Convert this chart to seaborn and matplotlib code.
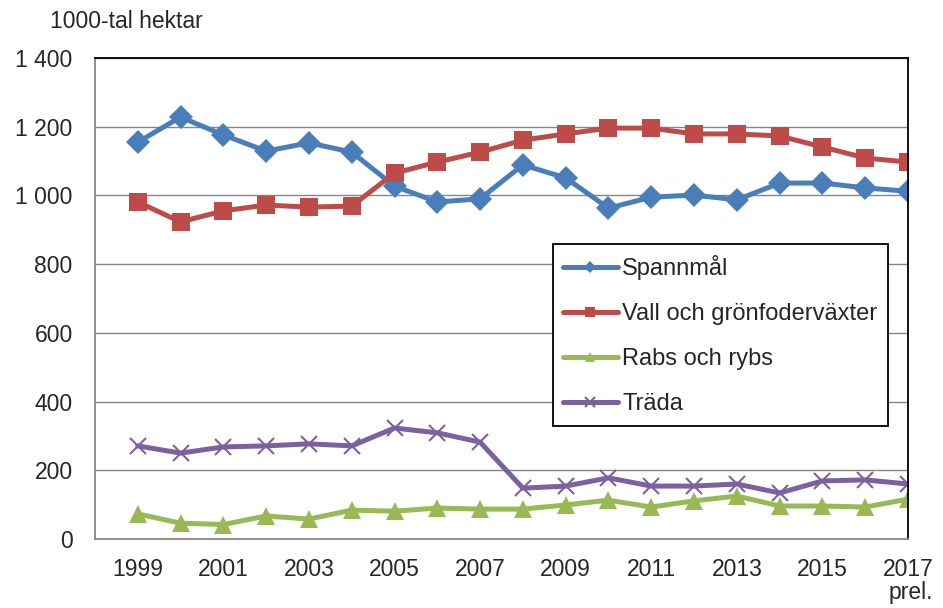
import numpy as np
import pandas as pd
import matplotlib
matplotlib.use("Agg")
import matplotlib.pyplot as plt
import seaborn as sns

years = list(range(1999, 2018))
spannmal = [1155, 1228, 1176, 1129, 1153, 1126, 1027, 981, 990, 1089,
            1051, 963, 995, 1001, 987, 1036, 1036, 1022, 1012]
vall = [981, 923, 955, 972, 966, 969, 1065, 1097, 1126, 1161,
        1179, 1196, 1196, 1179, 1179, 1173, 1141, 1109, 1097]
rabs = [73, 46, 42, 67, 58, 84, 81, 90, 87, 87,
        99, 113, 93, 111, 125, 96, 96, 93, 116]
trada = [271, 250, 268, 271, 277, 271, 323, 309, 282, 148,
         154, 178, 154, 154, 160, 134, 169, 172, 160]

series_names = ["Spannmål", "Vall och grönfoderväxter", "Rabs och rybs", "Träda"]
tick_years = list(range(1999, 2018, 2))
tick_labels = [str(y) for y in tick_years[:-1]] + ["2017\nprel."]
y_ticks = list(range(0, 1401, 200))
y_labels = ["0", "200", "400", "600", "800", "1 000", "1 200", "1 400"]

df = pd.DataFrame({
    "year": years * 4,
    "value": spannmal + vall + rabs + trada,
    "serie": np.repeat(series_names, len(years)),
})

colors = {"Spannmål": "#4A7EBB", "Vall och grönfoderväxter": "#BE4B48",
          "Rabs och rybs": "#98B954", "Träda": "#7D60A0"}
markers = {"Spannmål": "D", "Vall och grönfoderväxter": "s",
           "Rabs och rybs": "^", "Träda": "x"}
msize = {"Spannmål": 12, "Vall och grönfoderväxter": 12.5,
         "Rabs och rybs": 13, "Träda": 12}

sns.set_style("white")
plt.rcParams["font.family"] = ["Liberation Sans", "DejaVu Sans"]

fig = plt.figure(figsize=(9.43, 6.08), dpi=100)
ax = fig.add_axes([0.1007, 0.1135, 0.8622, 0.7911])

for name in series_names:
    sub = df[df["serie"] == name]
    sns.lineplot(data=sub, x="year", y="value", ax=ax, color=colors[name],
                 linewidth=3.6, marker=markers[name], markersize=msize[name],
                 markeredgecolor=colors[name], markeredgewidth=1.5 if name == "Träda" else 0,
                 label=name)

ax.set_xlim(1998, 2017)
ax.set_ylim(0, 1400)
ax.set_yticks(y_ticks)
ax.set_yticklabels(y_labels, fontsize=16.5)
ax.set_xticks(tick_years)
ax.set_xticklabels(tick_labels, fontsize=16.5, linespacing=1.0, multialignment="right")
ax.set_xticks(range(1998, 2018), minor=True)
ax.tick_params(axis="x", which="both", direction="out", length=7, width=1,
               color="#868686", pad=7)
ax.tick_params(axis="y", length=0, pad=16)
ax.set_xlabel("")
ax.set_ylabel("")
ax.grid(axis="y", color="#868686", linewidth=1)
ax.set_axisbelow(True)

for side in ["left", "bottom"]:
    ax.spines[side].set_color("#868686")
    ax.spines[side].set_linewidth(1.3)
for side in ["top", "right"]:
    ax.spines[side].set_color("black")
    ax.spines[side].set_linewidth(1.3)

leg = ax.legend(loc="upper left", bbox_to_anchor=(0.563, 0.613), fontsize=17,
                frameon=True, fancybox=False, edgecolor="black", framealpha=1,
                handlelength=2.3, handletextpad=0.2, labelspacing=0.98,
                borderpad=0.45, borderaxespad=0, markerscale=0.55)
leg.get_frame().set_linewidth(1.3)

fig.text(50 / 943, 1 - 22 / 608, "1000-tal hektar", fontsize=16.5, va="center", ha="left")

fig.savefig("out.png", dpi=100)
